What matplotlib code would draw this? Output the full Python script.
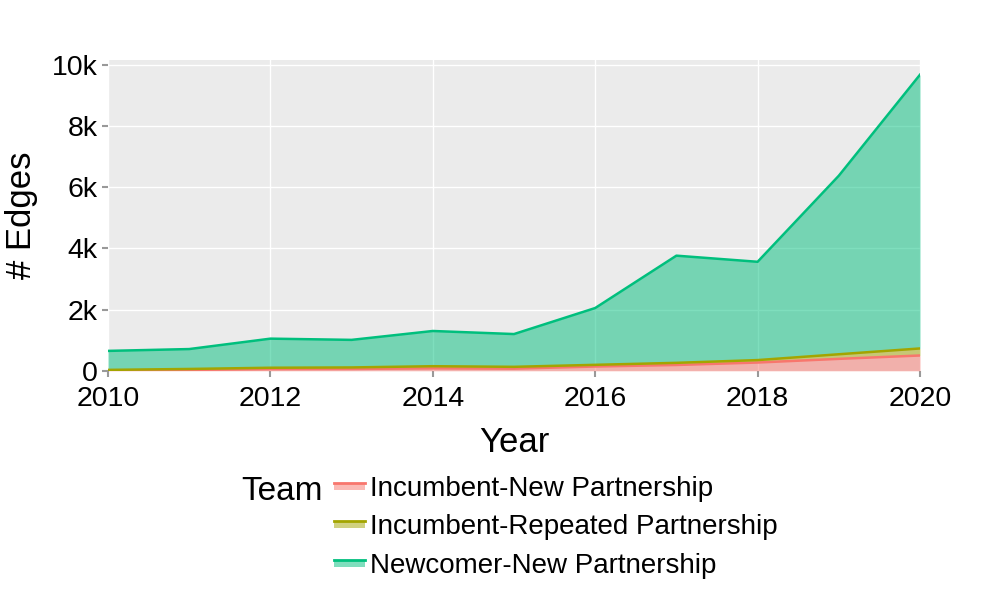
import numpy as np
import matplotlib.pyplot as plt
from matplotlib.patches import Rectangle
from matplotlib.lines import Line2D
from matplotlib.legend_handler import HandlerBase
from matplotlib.ticker import FuncFormatter

plt.rcParams['font.family'] = ['Liberation Sans', 'DejaVu Sans']

years = [2010, 2011, 2012, 2013, 2014, 2015, 2016, 2017, 2018, 2019, 2020]
teams = ['Incumbent-New Partnership', 'Incumbent-Repeated Partnership', 'Newcomer-New Partnership']
inc_new = [10, 30, 55, 60, 80, 70, 140, 190, 270, 390, 500]
inc_rep = [20, 30, 45, 50, 70, 60, 55, 70, 80, 150, 230]
new_new = [620, 650, 950, 900, 1150, 1070, 1855, 3500, 3210, 5830, 8940]
colors = ['#F8766D', '#A3A500', '#00BF7D']


class AreaKey(HandlerBase):
    # filled box with the line on its top edge, like the plotly legend
    def create_artists(self, legend, orig, xd, yd, w, h, fs, trans):
        c = orig.get_color()
        kh = 7 * 72 / 100.0
        y0 = yd + h / 2 - kh / 2
        r = Rectangle((xd, y0), w, kh, facecolor=c, alpha=0.5, edgecolor='none', transform=trans)
        ln = Line2D([xd, xd + w], [y0 + kh, y0 + kh], color=c, lw=2, transform=trans)
        return [r, ln]


fig = plt.figure(figsize=(10, 6), dpi=100)
ax = fig.add_axes([0.108, 0.382, 0.812, 0.518])
ax.set_facecolor('#EBEBEB')

# stacked areas
base = np.zeros(len(years))
for vals, c in zip([inc_new, inc_rep, new_new], colors):
    top = base + np.array(vals)
    ax.fill_between(years, base, top, color=c, alpha=0.5, linewidth=0, zorder=2)
    ax.plot(years, top, color=c, lw=1.8, zorder=3)
    base = top

ax.set_xlim(2010, 2020)
ax.set_ylim(0, 10150)
ax.set_xticks([2010, 2012, 2014, 2016, 2018, 2020])
ax.set_yticks([0, 2000, 4000, 6000, 8000, 10000])
ax.yaxis.set_major_formatter(FuncFormatter(lambda v, p: '0' if v == 0 else '%dk' % (v / 1000)))
ax.grid(True, color='white', lw=1, zorder=1)
ax.set_axisbelow(True)
for s in ax.spines.values():
    s.set_visible(False)
ax.tick_params(labelsize=20.5, length=4, color='#999999', width=1.5)
ax.tick_params(axis='x', pad=7)
ax.set_xlabel('Year', fontsize=25, labelpad=10)
ax.set_ylabel('# Edges', fontsize=25, labelpad=10)

handles = [Line2D([], [], color=c) for c in colors]
fig.legend(handles, teams, handler_map={Line2D: AreaKey()}, loc='upper left',
           bbox_to_anchor=(0.334, 0.207), frameon=False,
           fontsize=20, handlelength=1.1, handleheight=0.7, handletextpad=0.2,
           labelspacing=0.45, borderaxespad=0, borderpad=0)
fig.text(0.241, 0.18, 'Team', fontsize=24, va='center')

fig.savefig('out.png', dpi=100)
